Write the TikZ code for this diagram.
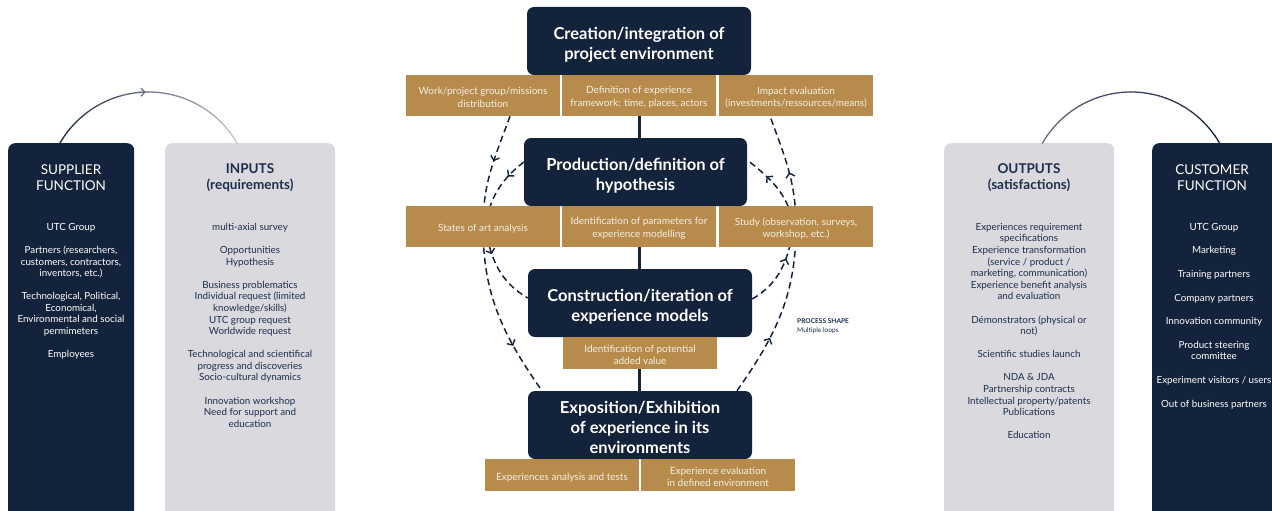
\documentclass[tikz,border=0pt]{standalone}
\usepackage{fontspec}
\setmainfont{Lato}
\usetikzlibrary{arrows.meta,decorations.markings}
\definecolor{navy}{HTML}{14233C}
\definecolor{gold}{HTML}{B78B4B}
\definecolor{lgray}{HTML}{D9D9DE}
\definecolor{cream}{HTML}{F6EFE3}
\definecolor{ink}{HTML}{1E2D4E}
\definecolor{arcgray}{HTML}{C4C4CE}
\definecolor{arcmid}{HTML}{6A6A80}
\pgfdeclarelayer{bg}
\pgfsetlayers{bg,main}
\tikzset{
  stagebox/.style={fill=navy, rounded corners=7pt, minimum width=224pt, minimum height=68pt, inner sep=0pt},
  stagetext/.style={text=white, font=\fontsize{16.5}{20}\selectfont\bfseries, align=center, inner sep=0pt},
  goldbox/.style={fill=gold, minimum width=154pt, minimum height=41pt, inner sep=0pt},
  goldlow/.style={goldbox, minimum height=32pt},
  goldtext/.style={text=cream, font=\fontsize{10}{12.3}\selectfont, align=center, inner sep=0pt},
  colnavy/.style={fill=navy, rounded corners=7pt, anchor=north west, inner sep=0pt, minimum height=390pt},
  colgray/.style={fill=lgray, rounded corners=7pt, anchor=north west, inner sep=0pt, minimum height=390pt, minimum width=170pt},
  coltitle/.style={align=center, inner sep=0pt},
  colitems/.style={align=center, anchor=north, font=\fontsize{9.8}{11.6}\selectfont, inner sep=0pt},
  loopline/.style={navy, line width=1.5pt, dash pattern=on 6.5pt off 4pt},
  midtip/.style={postaction={decorate}, decoration={markings, mark=at position #1 with {\arrow{Straight Barb[length=4pt,width=9pt,line width=1.4pt]}}}},
}
\begin{document}
\begin{tikzpicture}[x=1pt,y=1pt]
\useasboundingbox (0,0) rectangle (1272,-511);

% side columns
\node[colnavy, minimum width=126pt] (sup) at (8,-143) {};
\node[colgray] (inp) at (165,-143) {};
\node[colgray] (outp) at (944,-143) {};
\node[colnavy, minimum width=140pt] (cus) at (1152,-143) {};

\node[coltitle, text=white, font=\fontsize{13.5}{16}\selectfont] (supt) at (71,-177.5) {SUPPLIER\\FUNCTION};
\node[coltitle, text=ink, font=\fontsize{13.5}{16}\selectfont\bfseries] (inpt) at (250,-177.5) {INPUTS\\(requirements)};
\node[coltitle, text=ink, font=\fontsize{13.5}{16}\selectfont\bfseries] (outt) at (1029,-177.5) {OUTPUTS\\(satisfactions)};
\node[coltitle, text=white, font=\fontsize{13.5}{16}\selectfont] (cust) at (1212,-177.5) {CUSTOMER\\FUNCTION};

\node[colitems, text=white] (supi) at (71,-223) {UTC Group\\[11.5pt]
Partners (researchers,\\customers, contractors,\\inventors, etc.)\\[11.5pt]
Technological, Political,\\Economical,\\Environmental and social\\permimeters\\[11.5pt]
Employees};
\node[colitems, text=ink] (inpi) at (250,-223) {multi-axial survey\\[11.5pt]
Opportunities\\Hypothesis\\[11.5pt]
Business problematics\\Individual request (limited\\knowledge/skills)\\UTC group request\\Worldwide request\\[11.5pt]
Technological and scientifical\\progress and discoveries\\Socio-cultural dynamics\\[11.5pt]
Innovation workshop\\Need for support and\\education};
\node[colitems, text=ink] (outi) at (1029,-223) {Experiences requirement\\specifications\\Experience transformation\\(service / product /\\marketing, communication)\\Experience benefit analysis\\and evaluation\\[11.5pt]
D\'emonstrators (physical or\\not)\\[11.5pt]
Scientific studies launch\\[11.5pt]
NDA \& JDA\\Partnership contracts\\Intellectual property/patents\\Publications\\[11.5pt]
Education};
\node[colitems, text=white] (cusi) at (1214,-223) {UTC Group\\[12pt]
Marketing\\[12pt]
Training partners\\[12pt]
Company partners\\[12pt]
Innovation community\\[12pt]
Product steering\\committee\\[12pt]
Experiment visitors / users\\[12pt]
Out of business partners};

% top arcs
\coordinate (arcL) at (148.5,-194.3);
\coordinate (arcR) at (1131,-194.3);
\foreach \i in {0,...,23}{
  \pgfmathsetmacro\aS{150-5*\i}
  \pgfmathsetmacro\aE{145-5*\i}
  \pgfmathtruncatemacro\p{100-100*\i/23}
  \pgfmathtruncatemacro\q{100*\i/23}
  \draw[line width=1.3pt, line cap=round, navy!\p!arcgray] ([shift={(\aS:102.3)}]arcL) arc[start angle=\aS, end angle=\aE, radius=102.3];
  \draw[line width=1.3pt, line cap=round, navy!\q!arcmid] ([shift={(\aS:102.3)}]arcR) arc[start angle=\aS, end angle=\aE, radius=102.3];
}
\draw[-{Straight Barb[length=4pt,width=8pt]}, line width=1.2pt, navy!55!arcgray] ([shift={(96:102.3)}]arcL) arc[start angle=96, end angle=91.5, radius=102.3];

% stage boxes
\node[stagebox] (cre) at (639,-41) {};
\node[stagebox, minimum width=223pt] (pro) at (635.5,-172) {};
\node[stagebox] (con) at (640,-303) {};
\node[stagebox] (exp) at (640,-425) {};
\node[stagetext] (cret) at ([yshift=-3.5pt]cre.center) {Creation/integration of\\project environment};
\node[stagetext] (prot) at ([yshift=-3.5pt]pro.center) {Production/definition of\\hypothesis};
\node[stagetext] (cont) at ([yshift=-3.5pt]con.center) {Construction/iteration of\\experience models};
\node[stagetext] (expt) at ([yshift=-2pt]exp.center) {Exposition/Exhibition\\of experience in its\\environments};

% gold boxes
\node[goldbox] (g11) at (483,-95.5) {};
\node[goldbox] (g12) at (639,-95.5) {};
\node[goldbox] (g13) at (796,-95.5) {};
\node[goldbox] (g21) at (483,-226.5) {};
\node[goldbox] (g22) at (639,-226.5) {};
\node[goldbox] (g23) at (796,-226.5) {};
\node[goldlow] (g31) at (640,-353) {};
\node[goldlow] (g41) at (562,-475) {};
\node[goldlow] (g42) at (718,-475) {};
\node[goldtext] (t11) at ([yshift=-1.8pt]g11.center) {Work/project group/missions\\distribution};
\node[goldtext] (t12) at ([yshift=-1.8pt]g12.center) {Definition of experience\\framework: time, places, actors};
\node[goldtext] (t13) at ([yshift=-1.8pt]g13.center) {Impact evaluation\\(investments/ressources/means)};
\node[goldtext] (t21) at ([yshift=-1.8pt]g21.center) {States of art analysis};
\node[goldtext] (t22) at ([yshift=-1.8pt]g22.center) {Identification of parameters for\\experience modelling};
\node[goldtext] (t23) at ([yshift=-1.8pt]g23.center) {Study (observation, surveys,\\workshop, etc.)};
\node[goldtext] (t31) at ([yshift=-1.8pt]g31.center) {Identification of potential\\added value};
\node[goldtext] (t41) at ([yshift=-2.5pt]g41.center) {Experiences analysis and tests};
\node[goldtext] (t42) at ([yshift=-1.8pt]g42.center) {Experience evaluation\\in defined environment};

\node[anchor=west, inner sep=0pt, text=ink, font=\fontsize{6.6}{8}\selectfont\bfseries] (ps) at (797,-321) {PROCESS SHAPE};
\node[anchor=west, inner sep=0pt, text=ink, font=\fontsize{6.6}{8}\selectfont] (ml) at (797,-331) {Multiple loops};

\begin{pgfonlayer}{bg}
\fill[white] (0,0) rectangle (1272,-511);
\draw[navy, line width=3pt] (cre.south) -- (cre.south |- exp.north);
% left outer loop
\draw[loopline, midtip=0.42] ([xshift=27pt]g11.south) to[out=250,in=90] (g21.center);
\draw[loopline, midtip=0.7] (g21.center) to[out=270,in=125] ([xshift=-98pt]exp.north);
% left inner loop
\draw[loopline, midtip=0.28] ([yshift=10pt]pro.west) to[out=218,in=80] ([xshift=2pt]g21.center);
\draw[loopline, midtip=0.33] ([xshift=2pt]g21.center) to[out=280,in=150] ([yshift=5pt]con.west);
% right outer loop
\draw[loopline, midtip=0.35] ([xshift=97pt]exp.north) to[out=55,in=270] (g23.center);
\draw[loopline, midtip=0.48] (g23.center) to[out=90,in=290] ([xshift=-26pt]g13.south);
% right inner loop
\draw[loopline, midtip=0.62] ([yshift=4pt]con.east) to[out=30,in=260] ([xshift=-2pt]g23.center);
\draw[loopline, midtip=0.7] ([xshift=-2pt]g23.center) to[out=100,in=322] ([yshift=12pt]pro.east);
\end{pgfonlayer}
\end{tikzpicture}
\end{document}
